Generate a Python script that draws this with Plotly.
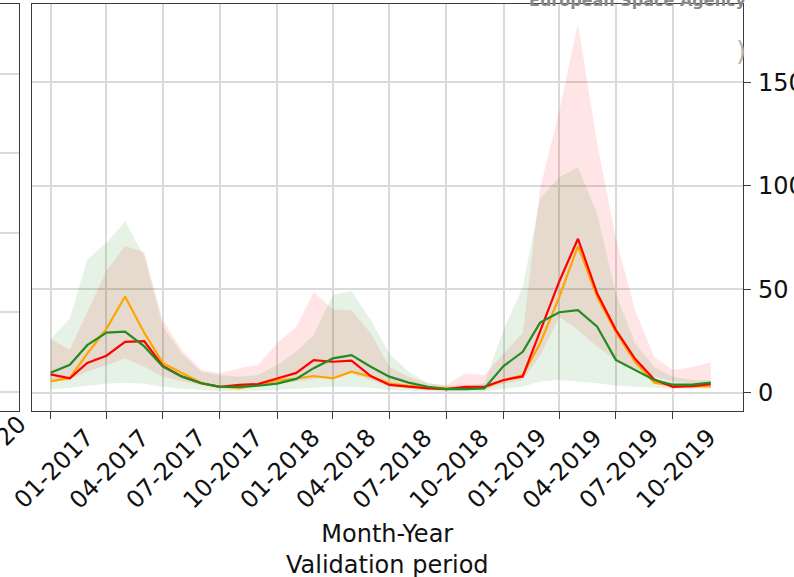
import pandas as pd
import plotly.graph_objects as go

# ---------------- data ----------------
months = pd.date_range("2017-01-01", periods=36, freq="MS")

orange_vals = [5.6, 7.3, 19, 31, 46.6, 29, 14.4, 9.6, 4.8, 3, 2.4, 3.9,
               6, 7, 8.2, 7.1, 10.3, 7.9, 4.7, 3.5, 2.7, 2.2, 2.2, 2.7,
               6, 8.7, 24, 46.4, 71, 46.4, 29.5, 15, 5, 3.5, 3.2, 3.2]
red_vals = [9, 7.1, 14.5, 18, 24.7, 25, 13, 7.9, 4.7, 3, 3.9, 4.3,
            7, 9.7, 15.9, 15.1, 15.6, 8.2, 3.9, 3, 2.2, 1.9, 3, 3,
            6.3, 8, 30, 54, 74.5, 48, 30.5, 16.5, 6.5, 3, 3.3, 4.3]
green_vals = [9.8, 13.6, 23.1, 29.2, 29.6, 22.5, 12.7, 7.9, 4.7, 3, 3, 3.5,
              4.5, 6.8, 12, 16.7, 18.3, 12.7, 7.9, 5, 3, 1.9, 1.9, 2.2,
              13, 19.9, 34, 39, 40, 32, 16, 11.1, 6.3, 4, 4, 5]

red_upper = [26, 21, 39, 59, 71, 68, 35, 20.7, 11.1, 9.5, 11.9, 13.5,
             24, 32, 48.8, 40.3, 40, 28.8, 12.7, 7.9, 4.7, 3.9, 9.5, 8.7,
             19, 29, 99, 136.5, 178.3, 120.5, 75, 40, 17.4, 11.1, 12.5, 14.9]
red_lower = [5.5, 6.6, 10.3, 13.5, 16.7, 12.7, 7.9, 5.5, 3.9, 2.2, 2.7, 3,
             4.3, 5.5, 6.5, 7.9, 9.5, 6.3, 3, 2.2, 1.5, 1.2, 1.5, 1.5,
             4.5, 6.3, 18, 36.8, 30.4, 22.3, 15.9, 11.9, 7.9, 5.5, 4.7, 4.5]
green_upper = [26, 36, 64.5, 72.5, 83, 66, 32, 19, 10.3, 8.7, 7.9, 8.7,
               13.5, 20, 28, 47.3, 49.3, 35.2, 19.1, 10.3, 4.7, 3.5, 3.9, 4.7,
               30.4, 51.3, 93.9, 104.3, 109.1, 86.6, 48.1, 24, 12.7, 7.9, 6.3, 6.3]
green_lower = [1.8, 2.5, 3.5, 4.5, 5, 4.5, 3, 2, 1.5, 1, 1, 1.2,
               1.5, 2, 2.5, 3, 3, 2.5, 1.5, 1, 0.8, 0.5, 0.5, 0.7,
               2, 3, 5.5, 6.3, 5.5, 4.7, 3.5, 3, 2.5, 2, 2, 2]

tick_dates = pd.date_range("2017-01-01", "2019-10-01", freq="3MS")
tick_labels = [d.strftime("%m-%Y") for d in tick_dates]
y_ticks = [0, 50, 100, 150]
left_grid = [0, 1, 2, 3, 4]

# ---------------- layout helpers ----------------
W, H = 794, 577
def px_x(p): return p / W
def px_y(p): return 1 - p / H

FONT = "DejaVu Sans"
AXC = "#3a3a3a"
GRID = "#dadada"

fig = go.Figure()

# bands
fig.add_trace(go.Scatter(x=months, y=red_lower, mode="lines", line=dict(width=0),
                         showlegend=False, hoverinfo="skip"))
fig.add_trace(go.Scatter(x=months, y=red_upper, mode="lines", line=dict(width=0),
                         fill="tonexty", fillcolor="rgba(255,0,0,0.1)",
                         showlegend=False, hoverinfo="skip"))
fig.add_trace(go.Scatter(x=months, y=green_lower, mode="lines", line=dict(width=0),
                         showlegend=False, hoverinfo="skip"))
fig.add_trace(go.Scatter(x=months, y=green_upper, mode="lines", line=dict(width=0),
                         fill="tonexty", fillcolor="rgba(0,128,0,0.1)",
                         showlegend=False, hoverinfo="skip"))
# lines
fig.add_trace(go.Scatter(x=months, y=orange_vals, mode="lines",
                         line=dict(color="#FFA500", width=2.2), showlegend=False))
fig.add_trace(go.Scatter(x=months, y=red_vals, mode="lines",
                         line=dict(color="#FF0000", width=2.2), showlegend=False))
fig.add_trace(go.Scatter(x=months, y=green_vals, mode="lines",
                         line=dict(color="#228B22", width=2.2), showlegend=False))

# left (cut-off) panel placeholder axes
fig.add_trace(go.Scatter(x=[None], y=[None], xaxis="x2", yaxis="y2",
                         showlegend=False, hoverinfo="skip"))

fig.update_layout(
    width=W, height=H, autosize=False,
    margin=dict(l=0, r=0, t=0, b=0, autoexpand=False),
    paper_bgcolor="white", plot_bgcolor="white",
    font=dict(family=FONT, size=24, color="#111"),
    xaxis=dict(
        domain=[px_x(32), px_x(743)], automargin=False,
        range=["2016-12-02", "2020-01-22"],
        tickvals=list(tick_dates), showticklabels=False,
        ticks="outside", ticklen=7, tickwidth=1.2, tickcolor=AXC,
        showgrid=True, gridcolor=GRID, gridwidth=1.5,
        showline=True, linecolor=AXC, linewidth=1.3, mirror=True,
        zeroline=False,
    ),
    yaxis=dict(
        domain=[px_y(411), px_y(4)], automargin=False,
        range=[-8.7, 187.9], side="right",
        tickvals=y_ticks, ticks="outside", ticklen=7, tickwidth=1.2, tickcolor=AXC,
        tickfont=dict(size=24, family=FONT, color="#111"),
        ticklabelstandoff=2,
        showgrid=True, gridcolor=GRID, gridwidth=1.5,
        showline=True, linecolor=AXC, linewidth=1.3, mirror=True,
        zeroline=False,
    ),
    xaxis2=dict(
        domain=[0, px_x(19)], range=[0, 1], anchor="y2", automargin=False,
        showticklabels=False, ticks="", showgrid=False, zeroline=False,
        showline=True, linecolor=AXC, linewidth=1.3, mirror=True,
    ),
    yaxis2=dict(
        domain=[px_y(411), px_y(4)], range=[-0.239, 4.88], anchor="x2", side="right",
        automargin=False,
        tickvals=left_grid, showticklabels=False, ticks="",
        showgrid=True, gridcolor=GRID, gridwidth=1.5, zeroline=False,
        showline=True, linecolor=AXC, linewidth=1.3,
    ),
)

annotations = []
for d, lab in zip(tick_dates, tick_labels):
    annotations.append(dict(x=d, xref="x", y=px_y(469), yref="paper",
                            text=lab, showarrow=False, textangle=-45,
                            xanchor="center", yanchor="middle", xshift=3,
                            font=dict(size=24, family=FONT, color="#111")))
annotations.append(dict(x=px_x(387.5), xref="paper", y=px_y(549), yref="paper",
                        text="Month-Year<br>Validation period", showarrow=False,
                        xanchor="center", yanchor="middle",
                        font=dict(size=24, family=FONT, color="#111")))
annotations.append(dict(x=px_x(11), xref="paper", y=px_y(431), yref="paper",
                        text="20", showarrow=False, textangle=-45,
                        xanchor="center", yanchor="middle",
                        font=dict(size=24, family=FONT, color="#111")))
annotations.append(dict(x=px_x(638), xref="paper", y=px_y(12), yref="paper",
                        text="<b>European Space Agency</b>", showarrow=False,
                        xanchor="center", yanchor="bottom",
                        font=dict(size=16, family=FONT, color="#8a8a8a")))
annotations.append(dict(x=px_x(748), xref="paper", y=px_y(51), yref="paper",
                        text=")", showarrow=False,
                        xanchor="right", yanchor="middle",
                        font=dict(size=26, family=FONT, color="#b5b5b5")))
fig.update_layout(annotations=annotations)

fig.write_html("out.html",
               config={"responsive": False, "displayModeBar": False},
               post_script="document.body.style.margin='0';"
                           "document.body.style.overflow='hidden';")
